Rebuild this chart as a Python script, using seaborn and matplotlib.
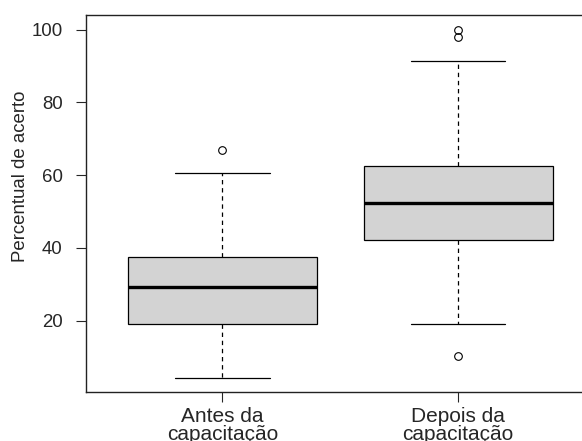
import pandas as pd
import matplotlib.pyplot as plt
import seaborn as sns

# Percentual de acerto por grupo
antes = [4.2, 10.4, 14.6, 19.1, 22.9, 25.0, 29.3, 31.3, 33.3, 37.6, 45.8, 60.5, 66.9]
depois = [10.4, 19.0, 33.3, 42.2, 45.8, 50.0, 52.4, 56.3, 58.3, 62.5, 91.4, 97.9, 100.0]
grupos = ['Antes da\ncapacitação', 'Depois da\ncapacitação']
yticks = [20, 40, 60, 80, 100]

df = pd.DataFrame({
    'grupo': [grupos[0]] * len(antes) + [grupos[1]] * len(depois),
    'percentual': antes + depois,
})

sns.set_style('white')
plt.rcParams['font.family'] = ['Liberation Sans', 'DejaVu Sans']

fig = plt.figure(figsize=(5.82, 4.41), dpi=100)
# axes run past the right edge, like the cropped original
ax = fig.add_axes([0.1473, 0.111, 0.875, 0.855])

sns.boxplot(data=df, x='grupo', y='percentual', order=grupos, ax=ax,
            color='#d3d3d3', saturation=1, width=0.8, linecolor='black', linewidth=0.9,
            whiskerprops=dict(linestyle=(0, (3.5, 3))),
            medianprops=dict(linewidth=2.4),
            flierprops=dict(marker='o', markersize=5.5, markerfacecolor='none',
                            markeredgecolor='black', markeredgewidth=0.8))

ax.set_xlim(-0.58, 1.58)
ax.set_ylim(0.4, 104)
ax.set_yticks(yticks)
ax.set_xlabel('')
ax.set_ylabel('Percentual de acerto', fontsize=13.4)
ax.yaxis.set_label_coords(-0.112, 0.573)
ax.tick_params(axis='y', labelsize=13.4, length=7.5, width=0.8, pad=9, left=True)
ax.tick_params(axis='x', labelsize=15, length=7.5, width=0.8, pad=3, bottom=True)
for lbl in ax.get_xticklabels():
    lbl.set_linespacing(0.95)
for s in ax.spines.values():
    s.set_linewidth(1.0)
    s.set_color('#222222')

fig.savefig('out.png', dpi=100)
